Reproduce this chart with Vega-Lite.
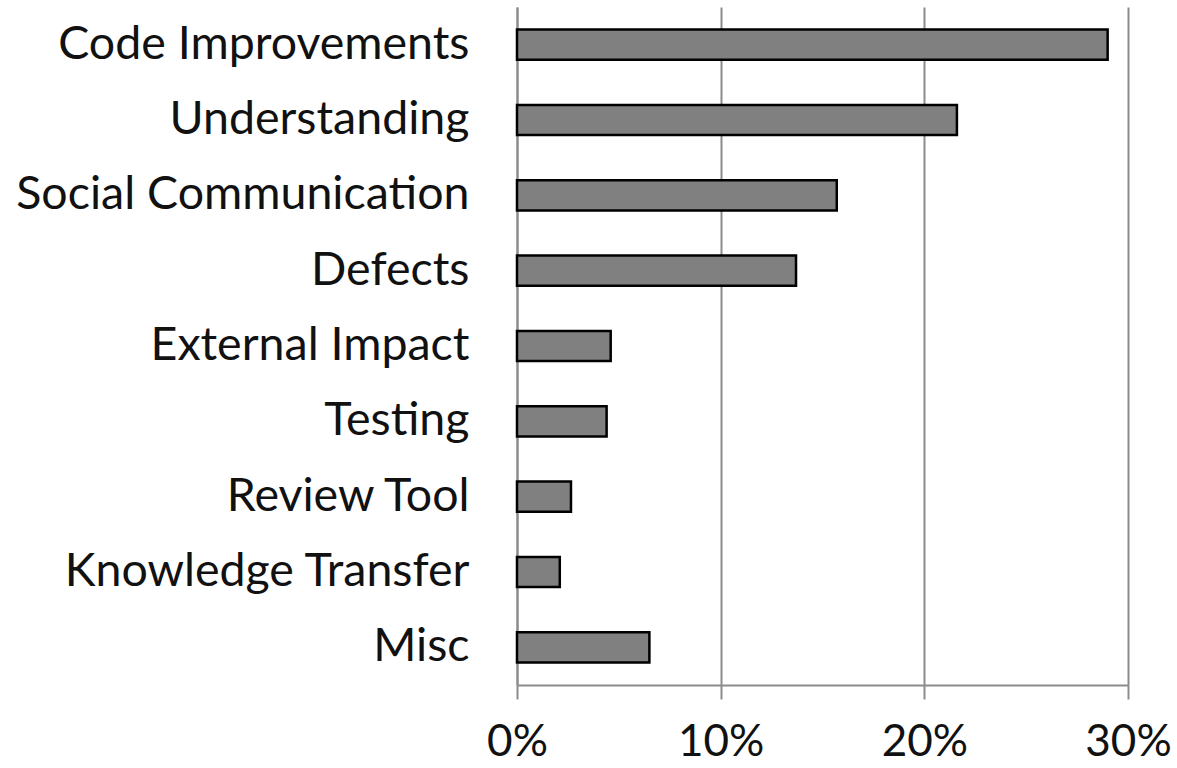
{
  "$schema": "https://vega.github.io/schema/vega-lite/v6.json",
  "autosize": {"type": "none"},
  "padding": {"left": 517, "top": 7, "right": 49, "bottom": 83},
  "width": 611,
  "height": 678,
  "background": "white",
  "data": {
    "values": [
      {"category": "Code Improvements", "share": 0.290},
      {"category": "Understanding", "share": 0.216},
      {"category": "Social Communication", "share": 0.157},
      {"category": "Defects", "share": 0.137},
      {"category": "External Impact", "share": 0.046},
      {"category": "Testing", "share": 0.044},
      {"category": "Review Tool", "share": 0.0265},
      {"category": "Knowledge Transfer", "share": 0.021},
      {"category": "Misc", "share": 0.065}
    ]
  },
  "mark": {"type": "bar", "fill": "#808080", "stroke": "#000000", "strokeWidth": 2.5},
  "encoding": {
    "y": {
      "field": "category",
      "type": "nominal",
      "sort": null,
      "scale": {"paddingInner": 0.6, "paddingOuter": 0.3},
      "axis": {
        "title": null,
        "ticks": false,
        "grid": false,
        "domainColor": "#8c8c8c",
        "domainWidth": 2,
        "labelFont": "Lato",
        "labelFontSize": 46.5,
        "labelLimit": 600,
        "labelColor": "#111111",
        "labelPadding": 48
      }
    },
    "x": {
      "field": "share",
      "type": "quantitative",
      "scale": {"domain": [0, 0.3], "nice": false},
      "axis": {
        "title": null,
        "values": [0, 0.1, 0.2, 0.3],
        "format": ".0%",
        "grid": true,
        "gridColor": "#8c8c8c",
        "gridWidth": 2,
        "gridOpacity": 1,
        "domainColor": "#8c8c8c",
        "domainWidth": 2,
        "tickColor": "#8c8c8c",
        "tickWidth": 2,
        "tickSize": 14,
        "labelFont": "Lato",
        "labelFontSize": 44,
        "labelColor": "#111111",
        "labelPadding": 21,
        "labelFlush": false
      }
    }
  },
  "config": {"view": {"stroke": null}}
}
